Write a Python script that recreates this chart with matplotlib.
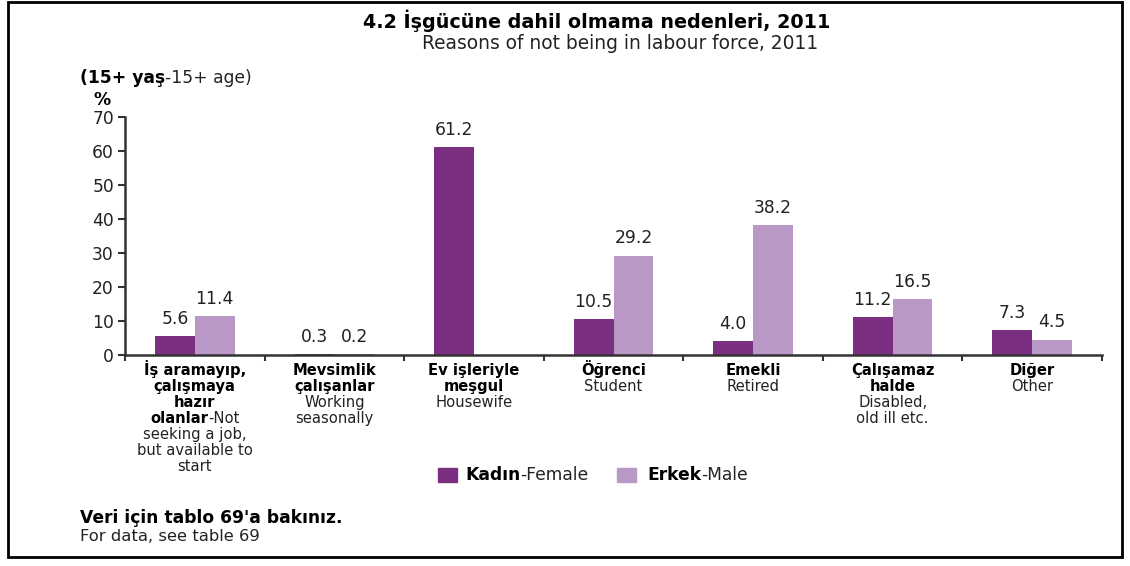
import matplotlib
matplotlib.use("Agg")
import matplotlib.pyplot as plt
from matplotlib.patches import Rectangle
import numpy as np

plt.rcParams['font.family'] = ['DejaVu Sans']

# ---- data ----
categories = [
    [[("İş aramayıp,", True)], [("çalışmaya", True)], [("hazır", True)],
     [("olanlar", True), ("-Not", False)], [("seeking a job,", False)],
     [("but available to", False)], [("start", False)]],
    [[("Mevsimlik", True)], [("çalışanlar", True)], [("Working", False)], [("seasonally", False)]],
    [[("Ev işleriyle", True)], [("meşgul", True)], [("Housewife", False)]],
    [[("Öğrenci", True)], [("Student", False)]],
    [[("Emekli", True)], [("Retired", False)]],
    [[("Çalışamaz", True)], [("halde", True)], [("Disabled,", False)], [("old ill etc.", False)]],
    [[("Diğer", True)], [("Other", False)]],
]
female = [5.6, 0.3, 61.2, 10.5, 4.0, 11.2, 7.3]
male = [11.4, 0.2, 0.0, 29.2, 38.2, 16.5, 4.5]
female_labels = ["5.6", "0.3", "61.2", "10.5", "4.0", "11.2", "7.3"]
male_labels = ["11.4", "0.2", "", "29.2", "38.2", "16.5", "4.5"]
yticks = [0, 10, 20, 30, 40, 50, 60, 70]

c_f = "#7B2F80"
c_m = "#B997C6"
fs = 12.3
cat_fs = 10.6
tc = "#222222"
W, H = 1130, 566

fig = plt.figure(figsize=(W/100, H/100), dpi=100)
ax = fig.add_axes([125/W, 1-355/H, (1102-125)/W, (355-117)/H])

x = np.arange(len(female))
w = 0.285
ax.bar(x - w/2, female, w, color=c_f)
ax.bar(x + w/2, male, w, color=c_m)
for i in range(len(x)):
    if female_labels[i]:
        ax.annotate(female_labels[i], (x[i]-w/2, female[i]), xytext=(0, 6),
                    textcoords="offset points", ha="center", va="bottom", fontsize=fs, color=tc)
    if male_labels[i]:
        ax.annotate(male_labels[i], (x[i]+w/2, male[i]), xytext=(0, 6),
                    textcoords="offset points", ha="center", va="bottom", fontsize=fs, color=tc)

ax.set_xlim(-0.5, len(x)-0.5)
ax.set_ylim(0, 70)
ax.set_yticks(yticks)
ax.set_yticklabels([str(t) for t in yticks], fontsize=fs, color=tc)
ax.set_xticks(np.arange(len(x)+1) - 0.5)
ax.set_xticklabels([])
ax.tick_params(axis='x', direction='out', length=4, width=1.5, color="#333333")
ax.tick_params(axis='y', direction='out', length=5, width=1.5, color="#333333", pad=3)
for s in ['top', 'right']:
    ax.spines[s].set_visible(False)
for s in ['left', 'bottom']:
    ax.spines[s].set_linewidth(1.8)
    ax.spines[s].set_color("#333333")

renderer = fig.canvas.get_renderer()

def seg_props(b, size):
    return dict(fontsize=size, fontweight='bold' if b else 'normal',
                color='black' if b else tc)

def mixed(parts, px, py, ha="left", size=fs):
    """Place a line of mixed bold/regular text; px,py in figure pixels (py from top), baseline."""
    widths = []
    for t, b in parts:
        tmp = fig.text(0, 0, t, **seg_props(b, size))
        widths.append(tmp.get_window_extent(renderer).width)
        tmp.remove()
    total = sum(widths)
    x0 = px - total/2 if ha == "center" else px
    for (t, b), wd in zip(parts, widths):
        fig.text(x0/W, 1-py/H, t, ha="left", va="baseline", **seg_props(b, size))
        x0 += wd

# category labels
pitch = 16.0
first_base = 375
for i, lines in enumerate(categories):
    cx = ax.transData.transform((x[i], 0))[0]
    for j, line in enumerate(lines):
        mixed(line, cx, first_base + j*pitch, ha="center", size=cat_fs)

# titles
fig.text(597/W, 1-28/H, "4.2 İşgücüne dahil olmama nedenleri, 2011", ha="center", va="baseline",
         fontsize=13.8, fontweight="bold", color="black")
fig.text(620/W, 1-49/H, "Reasons of not being in labour force, 2011", ha="center", va="baseline",
         fontsize=13.4, color=tc)

mixed([("(15+ yaş", True), ("-15+ age)", False)], 80, 83)
fig.text(93/W, 1-105/H, "%", fontsize=fs, fontweight="bold", va="baseline", ha="left")

# legend
def legend_item(px, tx, label_parts, color):
    fig.add_artist(Rectangle((px/W, 1-482/H), 19/W, 14/H, transform=fig.transFigure,
                             color=color))
    mixed(label_parts, tx, 480)

legend_item(438, 465, [("Kadın", True), ("-Female", False)], c_f)
legend_item(617, 647, [("Erkek", True), ("-Male", False)], c_m)

# footnote
fig.text(80/W, 1-523/H, "Veri için tablo 69'a bakınız.", fontsize=fs, fontweight="bold",
         va="baseline", ha="left", color="black")
fig.text(80/W, 1-541/H, "For data, see table 69", fontsize=11.8,
         va="baseline", ha="left", color=tc)

# border
fig.add_artist(Rectangle((8/W, 1-557/H), 1114/W, 555/H, transform=fig.transFigure,
                         fill=False, edgecolor="black", linewidth=2))

fig.savefig("out.png", dpi=100)
